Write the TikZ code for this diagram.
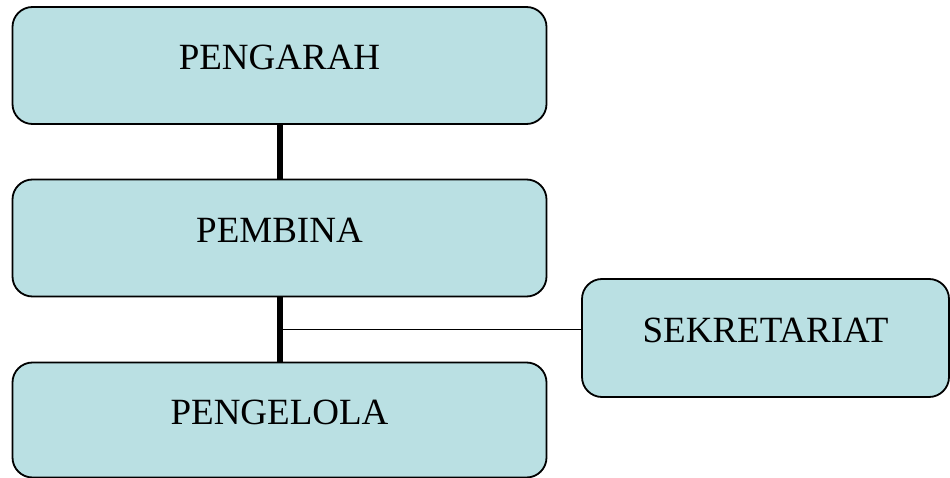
\documentclass[tikz,border=0pt]{standalone}
\usepackage{fontspec}
\setmainfont{Liberation Serif}
\definecolor{boxfill}{RGB}{186,224,227}
\tikzset{
    unit/.style={draw,fill=boxfill,rounded corners=20pt,line width=1.8pt,
        minimum height=117pt,text height=25pt,text depth=16pt,
        font=\fontsize{37}{44}\selectfont},
    trunk/.style={line width=6pt},
    branch/.style={line width=1.3pt}
}
\begin{document}
\begin{tikzpicture}[x=1pt,y=-1pt]
                \useasboundingbox (0,0) rectangle (950,478);
                \node(pengarah)[unit,minimum width=534pt] at (279.5,65.5){PENGARAH};
                \node(pembina)[unit,minimum width=534pt] at (279.5,238){PEMBINA};
                \node(pengelola)[unit,minimum width=534pt,minimum height=115pt] at (279.5,420){PENGELOLA};
                \node(sekretariat)[unit,minimum width=367pt,minimum height=118pt] at (765.5,338){SEKRETARIAT};

                \draw [trunk] (pengarah) -- (pembina);
                \draw [trunk] (pembina) -- coordinate[pos=0.5](junction) (pengelola);
                \draw [branch] (junction) -- (junction -| sekretariat.west);
            \end{tikzpicture}
\end{document}
